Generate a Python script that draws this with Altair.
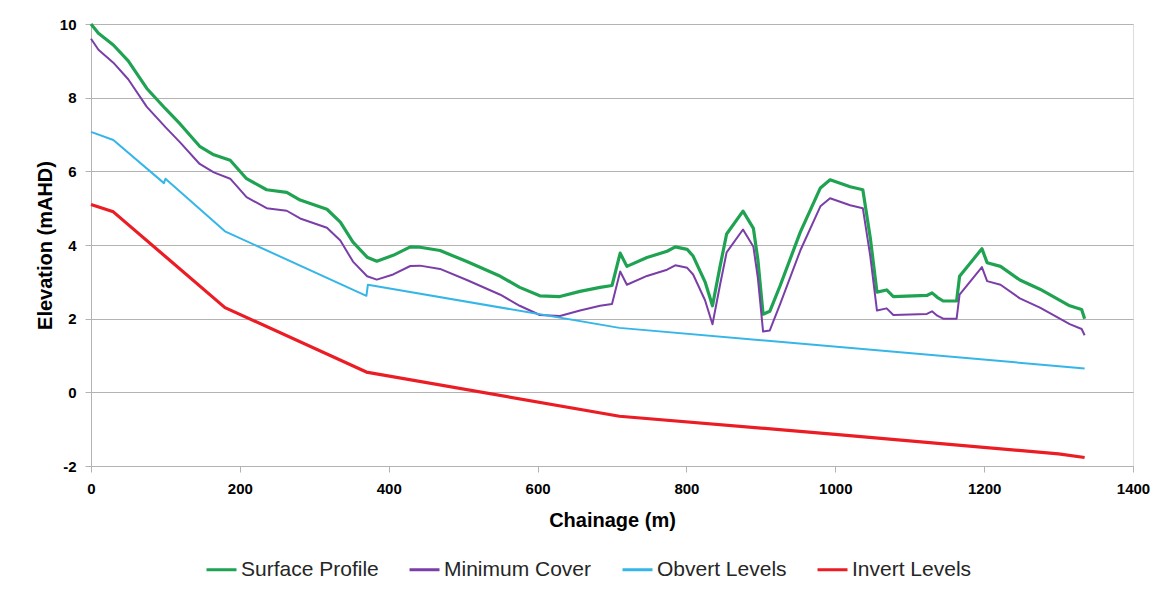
import altair as alt
import pandas as pd

series_names = ["Surface Profile", "Minimum Cover", "Obvert Levels", "Invert Levels"]
series_colors = ["#1fa352", "#7a3ea8", "#35b6e8", "#ec1c24"]
series_widths = [3.2, 2.0, 2.0, 3.2]

profile_chainage = [0, 10, 30, 50, 75, 100, 120, 146, 165, 187, 209, 236, 263, 281, 317, 335,
                    352, 371, 384, 406, 429, 442, 469, 505, 550, 576, 603, 630, 657, 684, 700,
                    711, 720, 747, 774, 785, 801, 809, 825, 835, 845, 854, 876, 890, 896, 903,
                    912, 926, 953, 980, 993, 1020, 1037, 1047, 1056, 1069, 1078, 1123, 1130,
                    1137, 1145, 1163, 1167, 1185, 1197, 1204, 1222, 1248, 1275, 1315, 1331, 1335]
surface_profile = [10.0, 9.75, 9.43, 9.0, 8.25, 7.7, 7.28, 6.68, 6.45, 6.3, 5.8, 5.5, 5.43, 5.22,
                   4.97, 4.62, 4.08, 3.67, 3.56, 3.72, 3.95, 3.94, 3.85, 3.55, 3.15, 2.85, 2.62,
                   2.6, 2.74, 2.85, 2.9, 3.78, 3.42, 3.66, 3.83, 3.95, 3.88, 3.7, 3.0, 2.35, 3.4,
                   4.3, 4.92, 4.45, 3.6, 2.12, 2.2, 2.9, 4.35, 5.55, 5.77, 5.58, 5.5, 4.2, 2.72,
                   2.78, 2.6, 2.63, 2.7, 2.58, 2.48, 2.48, 3.15, 3.6, 3.9, 3.52, 3.42, 3.05, 2.8,
                   2.35, 2.25, 2.0]
minimum_cover = [9.6, 9.3, 8.95, 8.5, 7.75, 7.2, 6.78, 6.2, 5.97, 5.8, 5.3, 5.0, 4.93, 4.72, 4.47,
                 4.12, 3.55, 3.15, 3.06, 3.2, 3.43, 3.44, 3.35, 3.05, 2.65, 2.35, 2.1, 2.07, 2.22,
                 2.35, 2.4, 3.28, 2.92, 3.16, 3.33, 3.45, 3.38, 3.2, 2.5, 1.85, 2.9, 3.8, 4.42,
                 3.95, 3.1, 1.65, 1.68, 2.4, 3.85, 5.05, 5.27, 5.08, 5.0, 3.7, 2.22, 2.28, 2.1,
                 2.13, 2.2, 2.08, 2.0, 2.0, 2.65, 3.1, 3.4, 3.02, 2.92, 2.55, 2.3, 1.85, 1.72, 1.55]

obvert_chainage = [0, 30, 98, 100, 180, 370, 372, 710, 1335]
obvert_levels = [7.07, 6.85, 5.68, 5.8, 4.37, 2.62, 2.92, 1.75, 0.65]

invert_chainage = [0, 30, 180, 370, 710, 1000, 1300, 1335]
invert_levels = [5.1, 4.9, 2.3, 0.55, -0.65, -1.14, -1.67, -1.77]

x_ticks = [0, 200, 400, 600, 800, 1000, 1200, 1400]
y_ticks = [-2, 0, 2, 4, 6, 8, 10]

frames = [
    pd.DataFrame({"series": series_names[0], "chainage": profile_chainage, "elev": surface_profile}),
    pd.DataFrame({"series": series_names[1], "chainage": profile_chainage, "elev": minimum_cover}),
    pd.DataFrame({"series": series_names[2], "chainage": obvert_chainage, "elev": obvert_levels}),
    pd.DataFrame({"series": series_names[3], "chainage": invert_chainage, "elev": invert_levels}),
]
df = pd.concat(frames, ignore_index=True)

font = "Liberation Sans"
grid_col = "#b3b3b3"

x_enc = alt.X("chainage:Q",
              scale=alt.Scale(domain=[0, 1400], nice=False, zero=False),
              axis=alt.Axis(values=x_ticks, title="Chainage (m)", grid=False,
                            labelExpr="'' + datum.value", labelFlush=False,
                            labelFontSize=15, labelFontWeight="bold", labelColor="#000000",
                            labelPadding=9, tickSize=6, tickColor=grid_col,
                            domainColor=grid_col, titleFontSize=20, titleFontWeight="bold",
                            titleColor="#000000", titleY=54, titleBaseline="middle",
                            titleX=521, labelFont=font, titleFont=font))
y_enc = alt.Y("elev:Q",
              scale=alt.Scale(domain=[-2, 10], nice=False, zero=False),
              axis=alt.Axis(values=y_ticks, title="Elevation (mAHD)", grid=True,
                            gridColor=grid_col, gridWidth=1.2,
                            labelExpr="'' + datum.value", labelFlush=False,
                            labelFontSize=15, labelFontWeight="bold", labelColor="#000000",
                            labelPadding=9, tickSize=6, tickColor=grid_col,
                            domainColor=grid_col, titleFontSize=20, titleFontWeight="bold",
                            titleColor="#000000", titleX=-46, titleY=221, titleAngle=270,
                            titleAlign="center", titleBaseline="middle",
                            labelFont=font, titleFont=font))
color_enc = alt.Color("series:N",
                      scale=alt.Scale(domain=series_names, range=series_colors),
                      sort=series_names,
                      legend=alt.Legend(title=None, orient="none", legendX=114, legendY=529,
                                        direction="horizontal", symbolType="stroke",
                                        symbolSize=900, symbolStrokeWidth=3,
                                        labelFontSize=21, labelFont=font, labelColor="#262626",
                                        labelOffset=3, columnPadding=24, labelLimit=400))

base = alt.Chart(df)
layers = []
for name, w in zip(series_names, series_widths):
    layers.append(
        base.transform_filter(alt.datum.series == name)
        .mark_line(strokeWidth=w, strokeJoin="round")
        .encode(x=x_enc, y=y_enc, color=color_enc)
    )

chart = alt.layer(*layers).properties(
    width=1042,
    height=442,
    autosize=alt.AutoSizeParams(type="none"),
    padding={"left": 83, "top": 16, "right": 20, "bottom": 125},
).configure_view(stroke=None).configure(background="white")

chart.save("out.html", embed_options={"renderer": "svg", "actions": False})
